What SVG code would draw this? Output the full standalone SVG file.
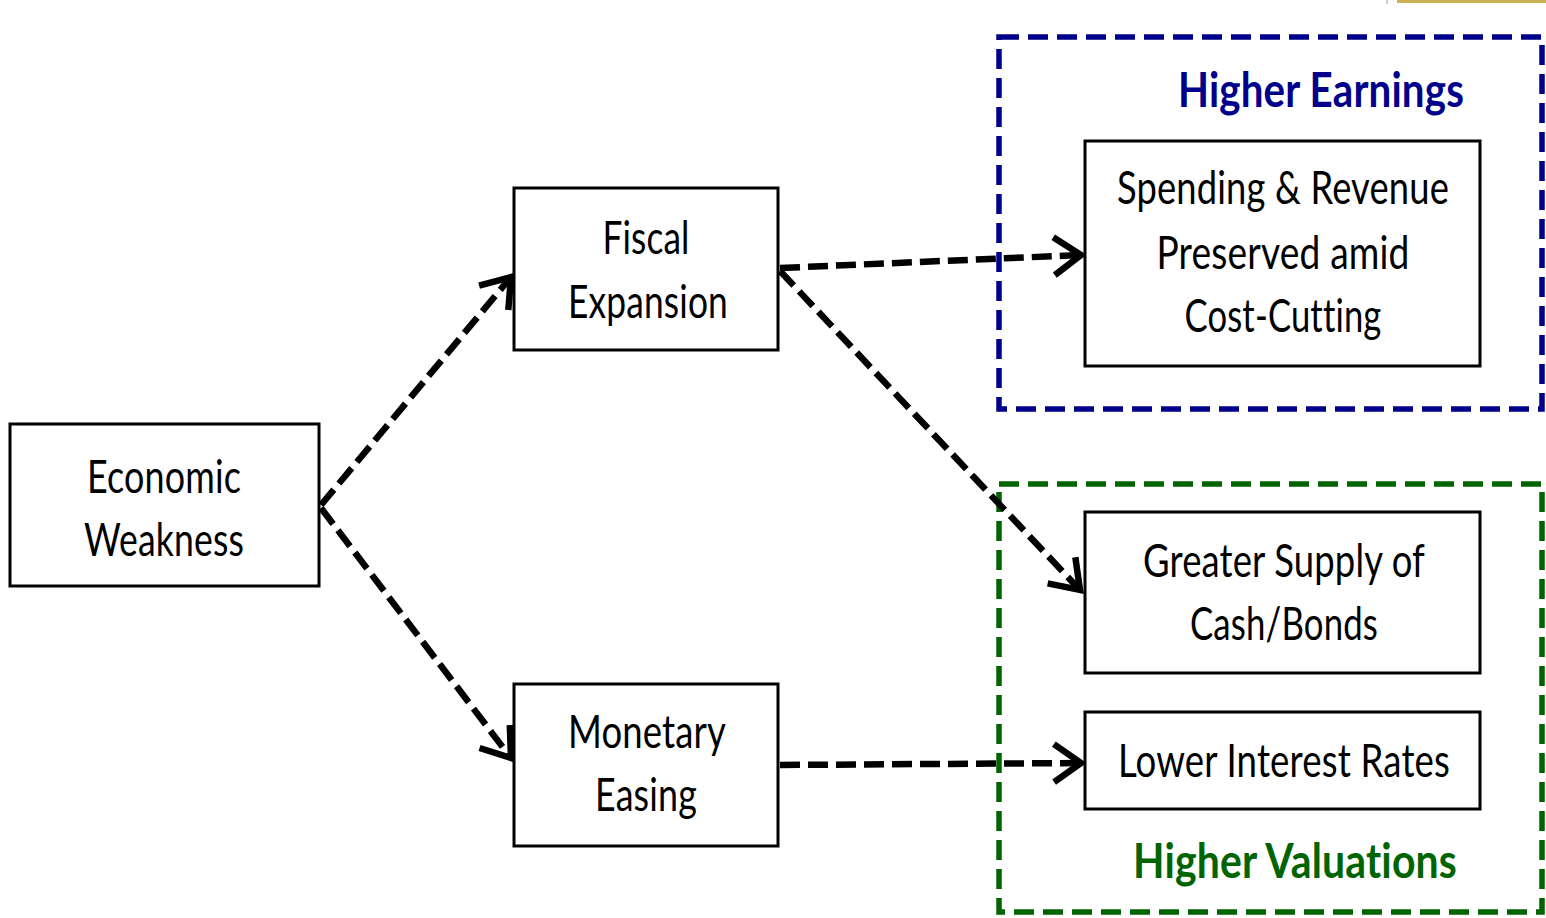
<svg xmlns="http://www.w3.org/2000/svg" width="1546" height="918" viewBox="0 0 1546 918">
<style>
text{font-variant-ligatures:none;font-feature-settings:"liga" 0,"clig" 0;letter-spacing:0.2px}
.box{fill:#fff;stroke:#000;stroke-width:3}
.t{font-family:Lato,"Open Sans","Liberation Sans",sans-serif;font-size:47px;fill:#000;text-anchor:middle}
.h{font-family:Lato,"Open Sans","Liberation Sans",sans-serif;font-size:48px;font-weight:bold;text-anchor:middle}
.grp{fill:none;stroke-width:5.5;stroke-dasharray:20 9}
.conn{fill:none;stroke:#000;stroke-width:6.5;stroke-dasharray:20 8}
</style>
<defs>
<marker id="arr" markerUnits="userSpaceOnUse" viewBox="-40 -30 50 60" refX="0" refY="0" markerWidth="50" markerHeight="60" orient="auto" overflow="visible">
<path d="M-27,-19 L0,0 L-27,19" fill="none" stroke="#000" stroke-width="6.5" stroke-dasharray="none" stroke-linejoin="miter"/>
</marker>
</defs>
<rect width="1546" height="918" fill="#fff"/>
<rect x="1397" y="0" width="149" height="3" fill="#C9B055"/>
<rect x="1386" y="0" width="2" height="4" fill="#ccc"/>

<g id="group-earnings">
<rect class="grp" x="999" y="37" width="543" height="372" stroke="#00008B"/>
<text class="h" x="1321" y="107" fill="#00008B" textLength="286" lengthAdjust="spacingAndGlyphs">Higher Earnings</text>
</g>
<g id="group-valuations">
<rect class="grp" x="999" y="484" width="543" height="428" stroke="#006400"/>
<text class="h" x="1295" y="878" fill="#006400" textLength="324" lengthAdjust="spacingAndGlyphs">Higher Valuations</text>
</g>

<g id="connectors">
<path class="conn" d="M321,505 L511,277" marker-end="url(#arr)"/>
<path class="conn" d="M321,508 L511,758" marker-end="url(#arr)"/>
<path class="conn" d="M780,268 L1081,255" marker-end="url(#arr)"/>
<path class="conn" d="M780,271 L1080,590" marker-end="url(#arr)"/>
<path class="conn" d="M780,765 L1081,763" marker-end="url(#arr)"/>
</g>

<g id="economic-weakness">
<rect class="box" x="10" y="424" width="309" height="162"/>
<text class="t" x="164" y="493" textLength="154" lengthAdjust="spacingAndGlyphs">Economic</text>
<text class="t" x="164" y="556" textLength="160" lengthAdjust="spacingAndGlyphs">Weakness</text>
</g>
<g id="fiscal-expansion">
<rect class="box" x="514" y="188" width="264" height="162"/>
<text class="t" x="646" y="254" textLength="87" lengthAdjust="spacingAndGlyphs">Fiscal</text>
<text class="t" x="648" y="318" textLength="160" lengthAdjust="spacingAndGlyphs">Expansion</text>
</g>
<g id="monetary-easing">
<rect class="box" x="514" y="684" width="264" height="162"/>
<text class="t" x="647" y="748" textLength="158" lengthAdjust="spacingAndGlyphs">Monetary</text>
<text class="t" x="646" y="811" textLength="102" lengthAdjust="spacingAndGlyphs">Easing</text>
</g>
<g id="spending-revenue">
<rect class="box" x="1085" y="141" width="395" height="225"/>
<text class="t" x="1283" y="204" textLength="332" lengthAdjust="spacingAndGlyphs">Spending &amp; Revenue</text>
<text class="t" x="1283" y="269" textLength="253" lengthAdjust="spacingAndGlyphs">Preserved amid</text>
<text class="t" x="1283" y="332" textLength="197" lengthAdjust="spacingAndGlyphs">Cost-Cutting</text>
</g>
<g id="greater-supply">
<rect class="box" x="1085" y="512" width="395" height="161"/>
<text class="t" x="1284" y="577" textLength="282" lengthAdjust="spacingAndGlyphs">Greater Supply of</text>
<text class="t" x="1284" y="640" textLength="188" lengthAdjust="spacingAndGlyphs">Cash/Bonds</text>
</g>
<g id="lower-interest">
<rect class="box" x="1085" y="712" width="395" height="97"/>
<text class="t" x="1284" y="777" textLength="332" lengthAdjust="spacingAndGlyphs">Lower Interest Rates</text>
</g>
</svg>
